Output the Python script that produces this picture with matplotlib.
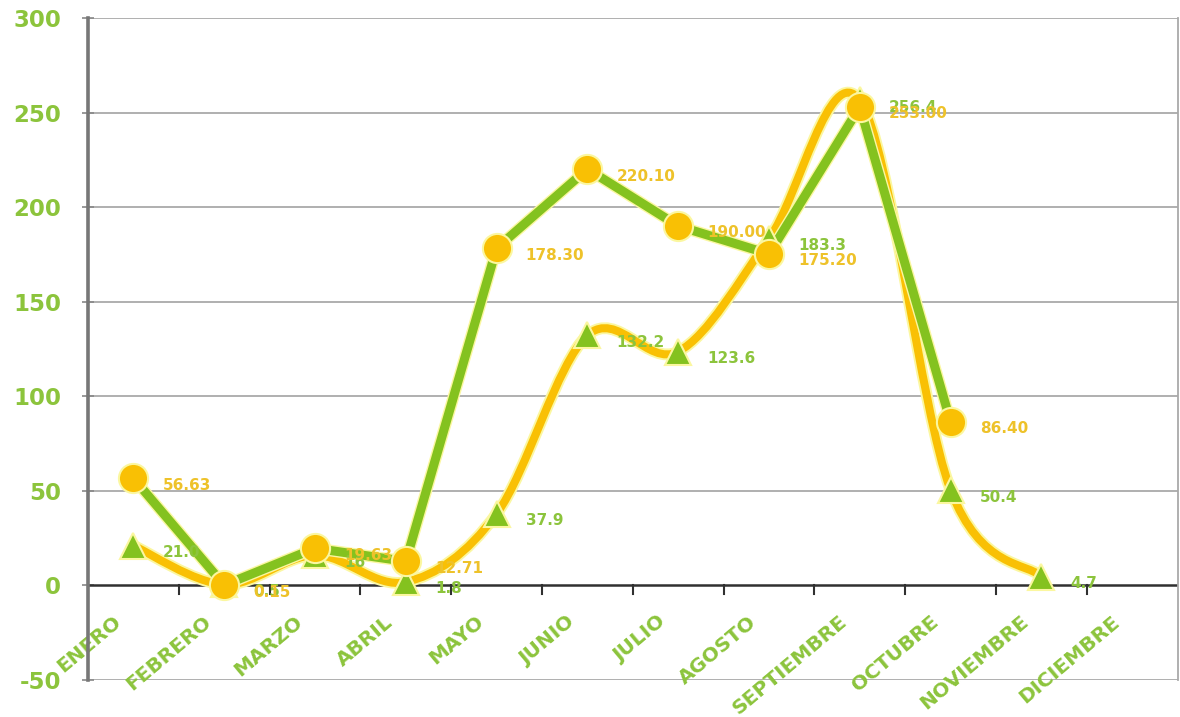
import matplotlib
matplotlib.use("Agg")
import matplotlib.pyplot as plt
import matplotlib.patheffects as pe
from matplotlib.path import Path
from matplotlib.patches import PathPatch
from matplotlib.transforms import ScaledTranslation
import numpy as np

months = ["ENERO", "FEBRERO", "MARZO", "ABRIL", "MAYO", "JUNIO", "JULIO",
          "AGOSTO", "SEPTIEMBRE", "OCTUBRE", "NOVIEMBRE", "DICIEMBRE"]

# series A: green straight line, yellow circle markers (Enero..Octubre)
serie_a = [56.63, 0.15, 19.63, 12.71, 178.30, 220.10, 190.00, 175.20, 253.00, 86.40]
labels_a = ["56.63", "0.15", "19.63", "12.71", "178.30", "220.10", "190.00",
            "175.20", "253.00", "86.40"]

# series B: yellow smoothed line, green triangle markers (Enero..Noviembre)
serie_b = [21.0, 0.5, 16.0, 1.8, 37.9, 132.2, 123.6, 183.3, 256.4, 50.4, 4.7]
labels_b = ["21.0", "0.5", "16", "1.8", "37.9", "132.2", "123.6", "183.3",
            "256.4", "50.4", "4.7"]

yticks = [-50, 0, 50, 100, 150, 200, 250, 300]

GREEN = "#84c21f"
YELLOW = "#f9c004"
GREEN_TXT = "#8cc43c"
YELLOW_TXT = "#eec22a"
GLOW = "#fbf7a0"

fig = plt.figure(figsize=(11.8, 7.17), dpi=100)
ax = fig.add_axes([0.0746, 0.0516, 0.9234, 0.9234])
ax.set_xlim(-0.5, 11.5)
ax.set_ylim(-50, 300)

# grid
for y in yticks:
    if y != 0:
        ax.axhline(y, color="#a9a9a9", lw=1.3, zorder=1)
ax.axhline(0, color="#303030", lw=1.8, zorder=2)

# frame
for s in ["top", "bottom"]:
    ax.spines[s].set_visible(False)
ax.spines["right"].set_color("#a9a9a9")
ax.spines["right"].set_linewidth(1.3)
ax.spines["left"].set_color("#777777")
ax.spines["left"].set_linewidth(2.6)

# smoothed yellow line (Bezier, Excel-style smoothing)
xb = np.arange(len(serie_b))
pts = np.column_stack([xb, serie_b]).astype(float)
verts = [tuple(pts[0])]
codes = [Path.MOVETO]
n = len(pts)
for i in range(n - 1):
    p0 = pts[i - 1] if i > 0 else pts[i]
    p1 = pts[i]
    p2 = pts[i + 1]
    p3 = pts[i + 2] if i + 2 < n else pts[i + 1]
    c1 = p1 + (p2 - p0) / 6.0
    c2 = p2 - (p3 - p1) / 6.0
    verts += [tuple(c1), tuple(c2), tuple(p2)]
    codes += [Path.CURVE4] * 3
patch = PathPatch(Path(verts, codes), facecolor="none", edgecolor=YELLOW,
                  lw=5.8, capstyle="round", joinstyle="round", zorder=3)
patch.set_path_effects([pe.Stroke(linewidth=8.5, foreground=GLOW), pe.Normal()])
ax.add_patch(patch)

# green straight line
xa = np.arange(len(serie_a))
ax.plot(xa, serie_a, color=GREEN, lw=6.5, solid_capstyle="round", zorder=4,
        path_effects=[pe.Stroke(linewidth=8.5, foreground=GLOW), pe.Normal()])

# markers
ax.plot(xb, serie_b, linestyle="none", marker="^", markersize=19,
        markerfacecolor=GREEN, markeredgecolor=GLOW, markeredgewidth=1.5, zorder=5)
ax.plot(xa, serie_a, linestyle="none", marker="o", markersize=21,
        markerfacecolor=YELLOW, markeredgecolor=GLOW, markeredgewidth=1.5, zorder=6)

# data labels
for x, y, t in zip(xb, serie_b, labels_b):
    ax.annotate(t, (x, y), xytext=(21, -5), textcoords="offset points",
                ha="left", va="center", fontsize=11, fontweight="bold",
                color=GREEN_TXT, zorder=7)
for x, y, t in zip(xa, serie_a, labels_a):
    ax.annotate(t, (x, y), xytext=(21, -5), textcoords="offset points",
                ha="left", va="center", fontsize=11, fontweight="bold",
                color=YELLOW_TXT, zorder=7)

# y axis
ax.set_yticks(yticks)
ax.set_yticklabels([str(v) for v in yticks])
ax.tick_params(axis="y", direction="inout", length=9, width=1.2, color="#888888",
               pad=15, labelsize=16.5, labelcolor=GREEN_TXT)
for lab in ax.get_yticklabels():
    lab.set_fontweight("bold")

# x axis: boundary ticks on the zero line, labels at categories
ax.set_xticks(np.arange(12))
ax.set_xticklabels(months)
ax.tick_params(axis="x", which="major", length=0, labelsize=14.5, labelcolor=GREEN_TXT)
ax.xaxis.set_ticks_position("bottom")
for xt in np.arange(0.5, 11.5, 1):
    ax.plot([xt, xt], [-4.5, 0], color="#303030", lw=1.5, zorder=2, clip_on=False)

zero_frac = (0 - (-50)) / 350.0
shift = ScaledTranslation(-15 / 100, -34 / 100, fig.dpi_scale_trans)
for lab in ax.get_xticklabels():
    lab.set_rotation(40)
    lab.set_ha("right")
    lab.set_va("center")
    lab.set_rotation_mode("anchor")
    lab.set_fontweight("bold")

fig.canvas.draw()
for lab in ax.get_xticklabels():
    x, _ = lab.get_position()
    lab.set_position((x, zero_frac))
    lab.set_transform(ax.get_xaxis_transform() + shift)

fig.savefig("out.png", dpi=100)
